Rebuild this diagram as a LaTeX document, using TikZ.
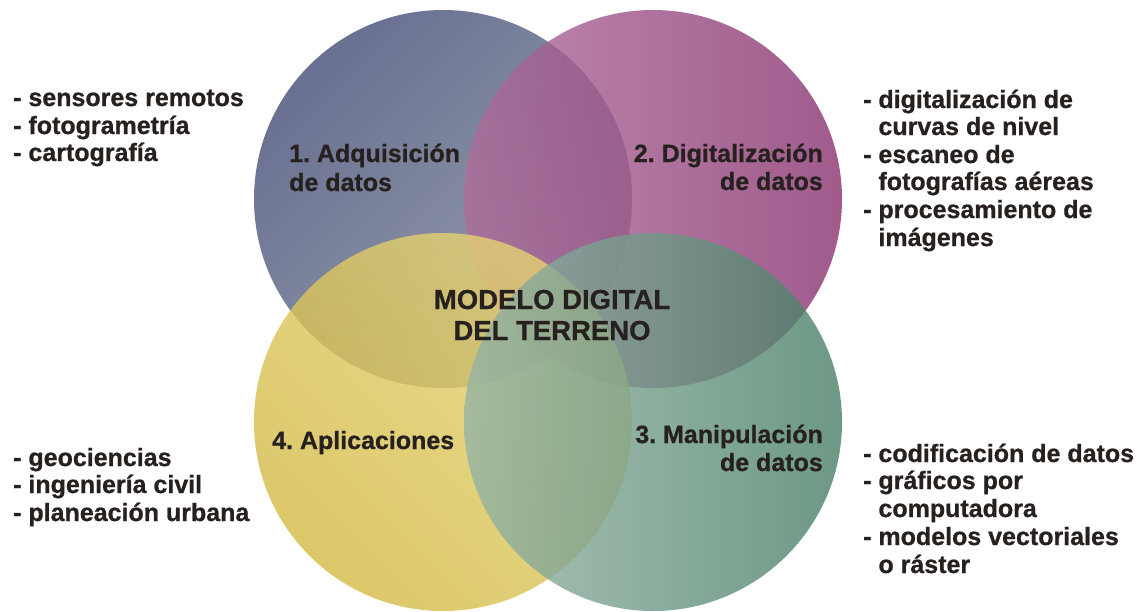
\documentclass[tikz,border=0pt]{standalone}
\usepackage{fontspec}
\setmainfont{Liberation Sans}[BoldFeatures={FakeBold=0.8}]
\frenchspacing
\definecolor{txt}{RGB}{38,33,31}
\definecolor{tlA}{RGB}{68,76,118}
\definecolor{tlB}{RGB}{124,134,151}
\definecolor{trA}{RGB}{174,109,155}
\definecolor{trB}{RGB}{136,49,111}
\definecolor{blA}{RGB}{230,211,117}
\definecolor{blB}{RGB}{211,186,68}
\definecolor{brA}{RGB}{150,180,166}
\definecolor{brB}{RGB}{72,126,102}
\tikzset{
  lst/.style={anchor=base west, inner sep=0pt, text=txt, font=\fontsize{25}{28}\selectfont\bfseries},
  lblL/.style={anchor=base west, inner sep=0pt, text=txt, font=\fontsize{25}{28}\selectfont\bfseries},
  lblR/.style={anchor=base east, inner sep=0pt, text=txt, font=\fontsize{25}{28}\selectfont\bfseries},
  ctr/.style={anchor=base, inner sep=0pt, text=txt, font=\fontsize{27.5}{31}\selectfont\bfseries},
  disc/.style={opacity=0.8}
}
\begin{document}
\begin{tikzpicture}[x=1pt,y=-1pt]
\useasboundingbox (0,0) rectangle (1141,611);
% circles
\shade[disc, top color=tlA, bottom color=tlB, shading angle=45] (443,199) circle (189);
\shade[disc, left color=trA, right color=trB] (653,199) circle (189);
\shade[disc, top color=blA, bottom color=blB, shading angle=-45] (443,422) circle (189);
\shade[disc, left color=brA, right color=brB] (653,422) circle (189);
% circle labels
\node[lblL] (a1) at (289,162) {1. Adquisición};
\node[lblL] (a2) at (289,191) {de datos};
\node[lblR] (d1) at (823,162) {2. Digitalización};
\node[lblR] (d2) at (823,190) {de datos};
\node[lblL] (p1) at (272,449) {4. Aplicaciones};
\node[lblR] (m1) at (823,443) {3. Manipulación};
\node[lblR] (m2) at (823,471) {de datos};
\node[ctr] (c1) at (552,309) {MODELO DIGITAL};
\node[ctr] (c2) at (552,340) {DEL TERRENO};
% left top list
\node[lst] (l1) at (13,106) {- sensores remotos};
\node[lst] (l2) at (13,134) {- fotogrametría};
\node[lst] (l3) at (13,161) {- cartografía};
% right top list
\node[lst] (r1) at (863,108) {- digitalización de};
\node[lst] (r2) at (863,135) {\hphantom{- }curvas de nivel};
\node[lst] (r3) at (863,163) {- escaneo de};
\node[lst] (r4) at (863,190) {\hphantom{- }fotografías aéreas};
\node[lst] (r5) at (863,218) {- procesamiento de};
\node[lst] (r6) at (863,246) {\hphantom{- }imágenes};
% left bottom list
\node[lst] (b1) at (13,466) {- geociencias};
\node[lst] (b2) at (13,493) {- ingeniería civil};
\node[lst] (b3) at (13,521) {- planeación urbana};
% right bottom list
\node[lst] (s1) at (863,462) {- codificación de datos};
\node[lst] (s2) at (863,489) {- gráficos por};
\node[lst] (s3) at (863,517) {\hphantom{- }computadora};
\node[lst] (s4) at (863,545) {- modelos vectoriales};
\node[lst] (s5) at (863,573) {\hphantom{- }o ráster};
\end{tikzpicture}
\end{document}
